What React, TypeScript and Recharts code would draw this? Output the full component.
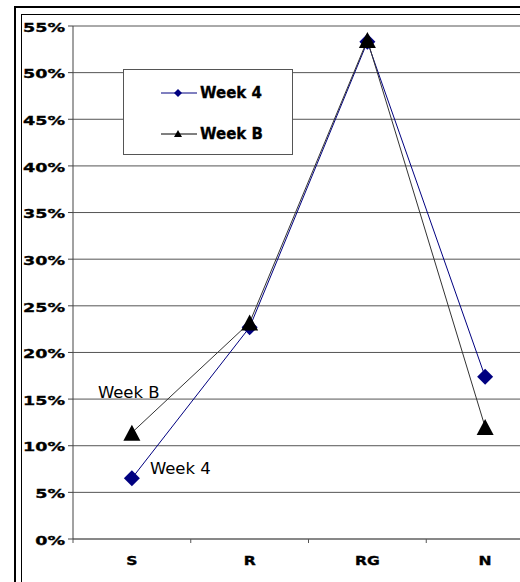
import {
  CartesianGrid,
  LabelList,
  Legend,
  Line,
  LineChart,
  XAxis,
  YAxis,
} from 'recharts'

const CATEGORIES = ['S', 'R', 'RG', 'N']
const WEEK_4 = [6.5, 22.7, 53.3, 17.4]
const WEEK_B = [11.4, 23.2, 53.5, 12.0]
const Y_TICKS = [0, 5, 10, 15, 20, 25, 30, 35, 40, 45, 50, 55]
const X_TICKS = [0, 0.5, 1, 1.5, 2, 2.5, 3, 3.5, 4]
const SERIES_NAMES = ['Week 4', 'Week B']

const data = CATEGORIES.map((c, i) => ({
  cat: c,
  pos: i + 0.5,
  week4: WEEK_4[i],
  weekB: WEEK_B[i],
}))

const FONT = '"DejaVu Sans", Verdana, sans-serif'
const NAVY = '#000080'

function Diamond({ cx, cy, r = 8, fill }: any) {
  if (cx == null || cy == null) return null
  return (
    <polygon
      points={`${cx},${cy - r} ${cx + r},${cy} ${cx},${cy + r} ${cx - r},${cy}`}
      fill={fill}
    />
  )
}

function Triangle({ cx, cy, w = 17, h = 16, fill }: any) {
  if (cx == null || cy == null) return null
  return (
    <polygon
      points={`${cx},${cy - h / 2} ${cx + w / 2},${cy + h / 2} ${cx - w / 2},${cy + h / 2}`}
      fill={fill}
    />
  )
}

// heavy, wide-ish bold like the original Verdana Bold
function YTick({ x, y, payload }: any) {
  return (
    <text
      transform={`translate(${x},${y + 1}) scale(1.35,1)`}
      textAnchor="end"
      dy="0.36em"
      fontFamily={FONT}
      fontWeight={700}
      fontSize={13}
      fill="#000"
      stroke="#000"
      strokeWidth={0.35}
    >
      {`${payload.value}%`}
    </text>
  )
}

function XTick({ x, y, payload }: any) {
  const v = payload.value
  if (Number.isInteger(v)) {
    return <line x1={x} x2={x} y1={y} y2={y + 4} stroke="#555" />
  }
  return (
    <text
      transform={`translate(${x},${y + 21}) scale(1.2,1)`}
      textAnchor="middle"
      dy="0.36em"
      fontFamily={FONT}
      fontWeight={700}
      fontSize={13}
      fill="#000"
      stroke="#000"
      strokeWidth={0.35}
    >
      {CATEGORIES[Math.floor(v)]}
    </text>
  )
}

function firstLabel(name: string, dx: number, dy: number) {
  return (props: any) => {
    if (props.index !== 0) return null
    return (
      <text
        x={props.x + dx}
        y={props.y + dy}
        dy="0.36em"
        fontFamily={FONT}
        fontSize={16.5}
        fill="#000"
      >
        {name}
      </text>
    )
  }
}

function LegendBox() {
  const rows = [
    { name: SERIES_NAMES[0], color: NAVY, marker: 'diamond', y: 23 },
    { name: SERIES_NAMES[1], color: '#000', marker: 'triangle', y: 64 },
  ]
  return (
    <div
      style={{
        position: 'relative',
        width: 170,
        height: 86,
        boxSizing: 'border-box',
        border: '1px solid #555',
        background: '#fff',
      }}
    >
      {rows.map((r) => (
        <div key={r.name}>
          <svg
            width={40}
            height={14}
            style={{ position: 'absolute', left: 36, top: r.y - 7 }}
          >
            <line x1={1} x2={37} y1={7} y2={7} stroke={r.color} strokeWidth={1} />
            {r.marker === 'diamond' ? (
              <Diamond cx={18} cy={7} r={4} fill={r.color} />
            ) : (
              <Triangle cx={18} cy={6.5} w={8} h={7} fill={r.color} />
            )}
          </svg>
          <span
            style={{
              position: 'absolute',
              left: 76,
              top: r.y - 10,
              fontFamily: FONT,
              fontWeight: 700,
              fontSize: 15,
              lineHeight: '20px',
              whiteSpace: 'nowrap',
              color: '#000',
              WebkitTextStroke: '0.3px #000',
            }}
          >
            {r.name}
          </span>
        </div>
      ))}
    </div>
  )
}

export default function App() {
  return (
    <div
      style={{
        position: 'fixed',
        left: 0,
        top: 0,
        width: 520,
        height: 582,
        overflow: 'hidden',
        background: '#fff',
      }}
    >
      <div
        style={{
          position: 'absolute',
          left: 14,
          top: 6,
          width: 700,
          height: 700,
          borderTop: '2px solid #000',
          borderLeft: '2px solid #000',
        }}
      />
      <div
        style={{
          position: 'absolute',
          left: 21,
          top: 14,
          width: 700,
          height: 700,
          borderTop: '1px solid #000',
          borderLeft: '1px solid #000',
        }}
      />
      <div style={{ position: 'absolute', left: 0, top: 0 }}>
        <LineChart
          width={560}
          height={600}
          data={data}
          margin={{ top: 26, right: 16, bottom: 31, left: 23 }}
        >
          <CartesianGrid vertical={false} stroke="#555" />
          <XAxis
            dataKey="pos"
            type="number"
            domain={[0, 4]}
            ticks={X_TICKS}
            interval={0}
            height={30}
            tickSize={0}
            tickMargin={0}
            tickLine={false}
            axisLine={{ stroke: '#666' }}
            tick={<XTick />}
          />
          <YAxis
            domain={[0, 55]}
            ticks={Y_TICKS}
            interval={0}
            width={50}
            tickSize={5}
            tickMargin={3}
            axisLine={{ stroke: '#444' }}
            tickLine={{ stroke: '#444' }}
            tick={<YTick />}
          />
          <Legend
            layout="vertical"
            align="center"
            verticalAlign="middle"
            wrapperStyle={{ left: 123, top: 69, width: 170, height: 86 }}
            content={() => <LegendBox />}
          />
          <Line
            type="linear"
            dataKey="week4"
            name={SERIES_NAMES[0]}
            stroke={NAVY}
            strokeWidth={1}
            dot={(p: any) => <Diamond key={`d${p.index}`} cx={p.cx} cy={p.cy} fill={NAVY} />}
            activeDot={false}
            isAnimationActive={false}
          >
            <LabelList dataKey="week4" content={firstLabel(SERIES_NAMES[0], 18, -10)} />
          </Line>
          <Line
            type="linear"
            dataKey="weekB"
            name={SERIES_NAMES[1]}
            stroke="#333"
            strokeWidth={1}
            dot={(p: any) => <Triangle key={`t${p.index}`} cx={p.cx} cy={p.cy} fill="#000" />}
            activeDot={false}
            isAnimationActive={false}
          >
            <LabelList dataKey="weekB" content={firstLabel(SERIES_NAMES[1], -34, -41)} />
          </Line>
        </LineChart>
      </div>
    </div>
  )
}
